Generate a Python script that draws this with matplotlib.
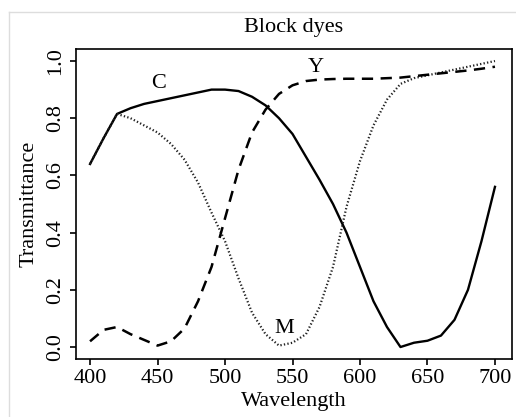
import matplotlib
matplotlib.use("Agg")
import matplotlib.pyplot as plt
from matplotlib.lines import Line2D

wavelength = [400, 410, 420, 430, 440, 450, 460, 470, 480, 490, 500, 510, 520, 530, 540,
              550, 560, 570, 580, 590, 600, 610, 620, 630, 640, 650, 660, 670, 680, 690, 700]
cyan = [0.64, 0.73, 0.815, 0.835, 0.85, 0.86, 0.87, 0.88, 0.89, 0.90, 0.90, 0.895, 0.875, 0.845, 0.80,
        0.745, 0.665, 0.585, 0.50, 0.40, 0.28, 0.16, 0.07, 0.0, 0.015, 0.022, 0.04, 0.095, 0.20, 0.37, 0.56]
magenta = [0.64, 0.73, 0.815, 0.80, 0.775, 0.75, 0.71, 0.655, 0.575, 0.47, 0.37, 0.24, 0.12, 0.045, 0.005,
           0.015, 0.045, 0.14, 0.28, 0.49, 0.65, 0.775, 0.865, 0.92, 0.94, 0.95, 0.96, 0.97, 0.98, 0.99, 1.0]
yellow = [0.02, 0.06, 0.07, 0.045, 0.025, 0.005, 0.02, 0.065, 0.16, 0.28, 0.45, 0.62, 0.75, 0.83, 0.885,
          0.915, 0.93, 0.935, 0.937, 0.938, 0.938, 0.938, 0.94, 0.942, 0.947, 0.952, 0.957, 0.962, 0.967, 0.973, 0.98]
labels = ["C", "M", "Y"]
label_pos = [(451, 0.923), (544, 0.066), (567, 0.976)]
xticks = [400, 450, 500, 550, 600, 650, 700]
yticks = [0.0, 0.2, 0.4, 0.6, 0.8, 1.0]

plt.rcParams['font.family'] = ['Liberation Serif', 'DejaVu Serif']

fig = plt.figure(figsize=(5.16, 4.17), dpi=100)
ax = fig.add_axes([0.1473, 0.139, 0.8449, 0.7435])

ax.plot(wavelength, cyan, color='black', lw=1.7, ls='-')
ax.plot(wavelength, magenta, color='#222222', lw=1.6, ls=(0, (0.6, 1.0)))
ax.plot(wavelength, yellow, color='black', lw=1.8, ls=(0, (4.5, 3.0)))

for lab, (lx, ly) in zip(labels, label_pos):
    ax.text(lx, ly, lab, fontsize=16, ha='center', va='center')

ax.set_xlim(389.6, 712.6)
ax.set_ylim(-0.042, 1.042)
ax.set_xticks(xticks)
ax.set_yticks(yticks)
ax.set_xticklabels([str(v) for v in xticks])
ax.set_yticklabels([f"{v:.1f}" for v in yticks], rotation=90, va='center')
ax.tick_params(direction='out', length=4, width=1.2, labelsize=16, pad=3)
ax.tick_params(axis='y', pad=4)
for s in ax.spines.values():
    s.set_linewidth(1.2)

ax.set_xlabel("Wavelength", fontsize=16, labelpad=3)
ax.set_ylabel("Transmittance", fontsize=16, labelpad=5)
ax.set_title("Block dyes", fontsize=16, pad=12)

# light frame of the original image
fig.add_artist(Line2D([9/516, 1], [1 - 12/417, 1 - 12/417], color='#dddddd', lw=1))
fig.add_artist(Line2D([9/516, 9/516], [0, 1 - 12/417], color='#dddddd', lw=1))

fig.savefig("out.png", dpi=100)
